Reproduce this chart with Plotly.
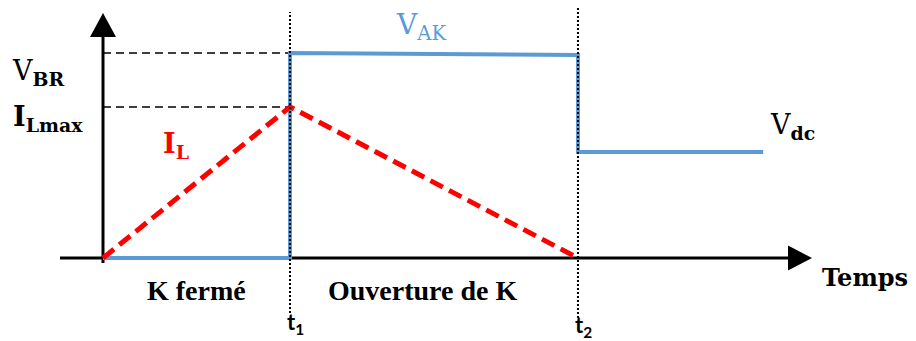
import plotly.graph_objects as go

# ---- data (abstract units: time, amplitude) ----
t1 = 1.0
t2 = 2.54
t_end = 3.53
V_BR = 1.0
V_BR_end = 0.99
I_Lmax = 0.737
V_dc = 0.517

vak_t = [0, t1, t1, t2, t2, t_end]
vak_v = [0, 0, V_BR, V_BR_end, V_dc, V_dc]

il_t = [0, t1, t2]
il_v = [0, I_Lmax, 0]

# ---- layout helpers (pixel geometry of the 916x341 canvas) ----
W, H = 916, 341
X0, SX = 103, 187.0   # pixel of t=0, pixels per time unit
Y0, SY = 258, 205.0   # pixel of v=0, pixels per amplitude unit

def tx(px):
    return (px - X0) / SX

def vy(py):
    return (Y0 - py) / SY

BLUE = "#5B9BD5"
RED = "#FF0000"

fig = go.Figure()
fig.add_trace(go.Scatter(x=vak_t, y=vak_v, mode="lines",
                         line=dict(color=BLUE, width=4), hoverinfo="skip"))
fig.add_trace(go.Scatter(x=il_t, y=il_v, mode="lines",
                         line=dict(color=RED, width=5, dash="14px,7px"), hoverinfo="skip"))

shapes = []
# axes
shapes.append(dict(type="line", x0=tx(60), x1=tx(790), y0=0, y1=0,
                   line=dict(color="black", width=3), layer="below"))
shapes.append(dict(type="line", x0=0, x1=0, y0=vy(263), y1=vy(35),
                   line=dict(color="black", width=3), layer="below"))
# arrow heads
shapes.append(dict(type="path",
                   path=f"M {tx(812)} {vy(258)} L {tx(788)} {vy(245.5)} L {tx(788)} {vy(270.5)} Z",
                   fillcolor="black", line=dict(color="black", width=0)))
shapes.append(dict(type="path",
                   path=f"M {tx(103)} {vy(13)} L {tx(90)} {vy(37)} L {tx(116)} {vy(37)} Z",
                   fillcolor="black", line=dict(color="black", width=0)))
# dashed guide lines
for lvl in [V_BR, I_Lmax]:
    shapes.append(dict(type="line", x0=0, x1=t1, y0=lvl, y1=lvl,
                       line=dict(color="black", width=1.5, dash="8px,5px"), layer="below"))
# dotted verticals
shapes.append(dict(type="line", x0=t1, x1=t1, y0=vy(313), y1=vy(12),
                   line=dict(color="black", width=2, dash="2px,2px"), layer="above"))
shapes.append(dict(type="line", x0=t2, x1=t2, y0=vy(318), y1=vy(8),
                   line=dict(color="black", width=2, dash="2px,2px"), layer="above"))

SERIF = "DejaVu Serif"
TNR = "Liberation Serif, Times New Roman, serif"
SANS = "Lato, Open Sans, sans-serif"

def ann(text, px, py, size, family, color="black"):
    return dict(text=text, x=px / W, y=1 - py / H, xref="paper", yref="paper",
                xanchor="left", yanchor="middle", showarrow=False,
                font=dict(size=size, family=family, color=color))

annotations = [
    ann("V<sub><b>BR</b></sub>", 10, 72, 27, SERIF),
    ann("<b>I</b><sub><b>Lmax</b></sub>", 11, 118, 27, SERIF),
    ann("<b>I</b><sub><b>L</b></sub>", 161, 145, 27, SERIF, RED),
    ann("V<sub>AK</sub>", 394, 26, 28, SERIF, BLUE),
    ann("V<sub><b>dc</b></sub>", 768, 126, 27, SERIF),
    ann("<b>Temps</b>", 820, 277, 24, SERIF),
    ann("<b>K fermé</b>", 145, 290, 28, TNR),
    ann("<b>Ouverture de K</b>", 326, 290, 28, TNR),
    ann("<b>t<sub>1</sub></b>", 285, 323, 22, SANS),
    ann("<b>t<sub>2</sub></b>", 573, 326, 22, SANS),
]

fig.update_layout(
    width=W, height=H,
    margin=dict(l=0, r=0, t=0, b=0),
    paper_bgcolor="white", plot_bgcolor="white",
    showlegend=False,
    xaxis=dict(range=[tx(0), tx(W)], visible=False, fixedrange=True),
    yaxis=dict(range=[vy(H), vy(0)], visible=False, fixedrange=True),
    shapes=shapes,
    annotations=annotations,
)

fig.write_html("out.html", config={"displayModeBar": False},
               post_script="document.body.style.margin='0';document.body.style.overflow='hidden';")
